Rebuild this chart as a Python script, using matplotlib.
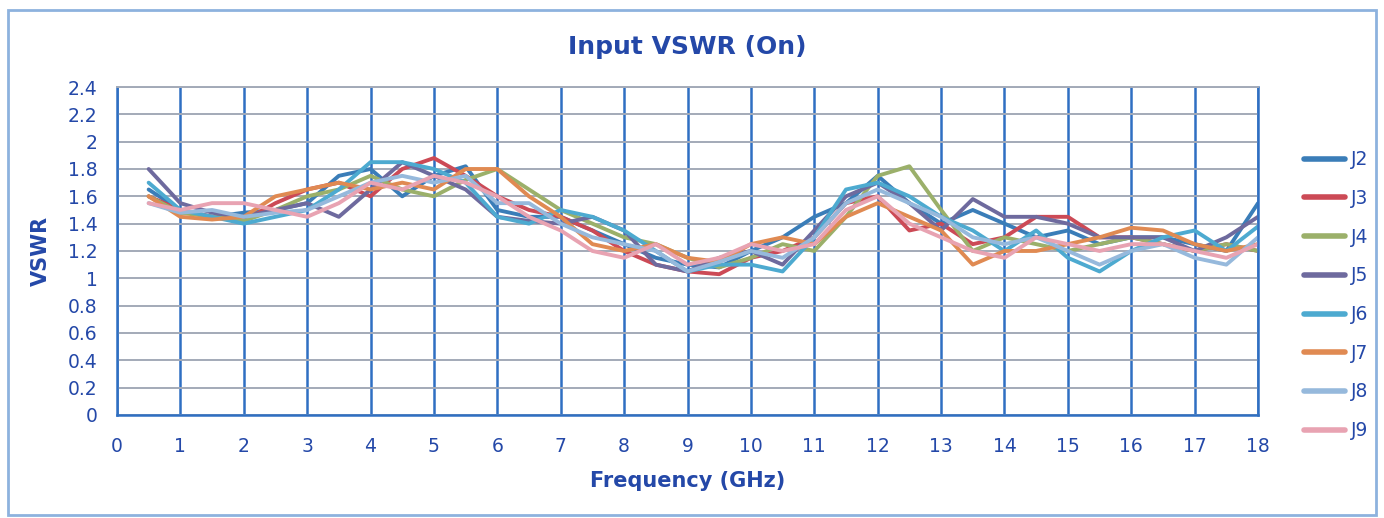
import numpy as np
import matplotlib
matplotlib.use('Agg')
import matplotlib.pyplot as plt
from matplotlib.patches import Rectangle
from matplotlib.ticker import FormatStrFormatter

# frequency points (GHz)
freq = np.arange(1, 37) * 0.5

j2 = [1.65, 1.50, 1.45, 1.48, 1.50, 1.55, 1.75, 1.80, 1.60, 1.75, 1.82, 1.50,
      1.45, 1.45, 1.35, 1.25, 1.15, 1.10, 1.08, 1.20, 1.30, 1.45, 1.55, 1.75,
      1.55, 1.40, 1.50, 1.40, 1.30, 1.35, 1.25, 1.30, 1.30, 1.25, 1.20, 1.55]
j3 = [1.60, 1.50, 1.45, 1.42, 1.55, 1.65, 1.70, 1.60, 1.80, 1.88, 1.75, 1.60,
      1.50, 1.45, 1.35, 1.20, 1.10, 1.05, 1.03, 1.15, 1.20, 1.30, 1.55, 1.60,
      1.35, 1.40, 1.25, 1.30, 1.45, 1.45, 1.30, 1.30, 1.25, 1.20, 1.25, 1.20]
j4 = [1.60, 1.48, 1.45, 1.42, 1.50, 1.60, 1.65, 1.75, 1.65, 1.60, 1.72, 1.80,
      1.65, 1.50, 1.40, 1.30, 1.25, 1.15, 1.08, 1.15, 1.25, 1.20, 1.45, 1.75,
      1.82, 1.50, 1.20, 1.30, 1.25, 1.20, 1.25, 1.30, 1.25, 1.20, 1.25, 1.20]
j5 = [1.80, 1.55, 1.48, 1.45, 1.50, 1.55, 1.45, 1.65, 1.85, 1.75, 1.65, 1.45,
      1.42, 1.40, 1.45, 1.35, 1.10, 1.05, 1.15, 1.20, 1.10, 1.35, 1.60, 1.70,
      1.55, 1.35, 1.58, 1.45, 1.45, 1.40, 1.30, 1.30, 1.30, 1.20, 1.30, 1.45]
j6 = [1.70, 1.50, 1.45, 1.40, 1.45, 1.50, 1.65, 1.85, 1.85, 1.80, 1.70, 1.45,
      1.40, 1.50, 1.45, 1.35, 1.20, 1.05, 1.10, 1.10, 1.05, 1.30, 1.65, 1.70,
      1.60, 1.45, 1.35, 1.20, 1.35, 1.15, 1.05, 1.20, 1.30, 1.35, 1.20, 1.38]
j7 = [1.60, 1.45, 1.43, 1.45, 1.60, 1.65, 1.70, 1.65, 1.70, 1.65, 1.80, 1.80,
      1.60, 1.45, 1.25, 1.20, 1.25, 1.15, 1.12, 1.25, 1.30, 1.25, 1.45, 1.55,
      1.45, 1.35, 1.10, 1.20, 1.20, 1.25, 1.30, 1.37, 1.35, 1.25, 1.20, 1.25]
j8 = [1.55, 1.48, 1.50, 1.45, 1.48, 1.50, 1.60, 1.70, 1.75, 1.70, 1.75, 1.55,
      1.55, 1.40, 1.30, 1.25, 1.20, 1.05, 1.12, 1.20, 1.15, 1.30, 1.55, 1.65,
      1.55, 1.45, 1.30, 1.25, 1.30, 1.20, 1.10, 1.20, 1.25, 1.15, 1.10, 1.30]
j9 = [1.55, 1.50, 1.55, 1.55, 1.50, 1.45, 1.55, 1.70, 1.65, 1.75, 1.70, 1.60,
      1.45, 1.35, 1.20, 1.15, 1.25, 1.10, 1.15, 1.25, 1.20, 1.25, 1.50, 1.60,
      1.40, 1.30, 1.20, 1.15, 1.30, 1.25, 1.20, 1.25, 1.25, 1.20, 1.15, 1.25]

names = ['J2', 'J3', 'J4', 'J5', 'J6', 'J7', 'J8', 'J9']
series = [j2, j3, j4, j5, j6, j7, j8, j9]
colors = ['#3A7DB8', '#CC4A56', '#9BB06A', '#6E6A9E',
          '#4DAAD0', '#E08A52', '#96B9DC', '#E8A3B2']

txt = '#2448A8'

fig = plt.figure(figsize=(13.84, 5.18), dpi=100)
ax = fig.add_axes([0.0845, 0.199, 0.8245, 0.633])

for name, vals, c in zip(names, series, colors):
  ax.plot(freq, vals, color=c, lw=2.8, label=name,
          solid_joinstyle='round', solid_capstyle='round')

ax.set_xlim(0, 18)
ax.set_ylim(0, 2.4)
ax.set_xticks(np.arange(0, 19, 1))
ax.set_yticks(np.arange(0, 2.41, 0.2))
ax.yaxis.set_major_formatter(FormatStrFormatter('%g'))
ax.tick_params(length=0, labelsize=13.5, labelcolor=txt)
ax.tick_params(axis='x', pad=16)
ax.tick_params(axis='y', pad=14)

# grid: blue verticals, grey horizontals
ax.xaxis.grid(True, color='#2F6FC2', lw=1.8)
ax.yaxis.grid(True, color='#A3AAB8', lw=1.4)
ax.set_axisbelow(True)
for s in ['left', 'bottom', 'right']:
  ax.spines[s].set_color('#2F6FC2')
  ax.spines[s].set_linewidth(1.8)
ax.spines['top'].set_color('#A3AAB8')
ax.spines['top'].set_linewidth(1.4)

ax.set_title('Input VSWR (On)', fontsize=18, fontweight='bold', color=txt, pad=24)
ax.set_xlabel('Frequency (GHz)', fontsize=15, fontweight='bold', color=txt, labelpad=11)
ax.set_ylabel('VSWR', fontsize=15, fontweight='bold', color=txt, labelpad=12)

leg = fig.legend(loc='center left', bbox_to_anchor=(0.93, 0.43), frameon=False,
                 fontsize=13.5, labelspacing=1.05, handlelength=2.2, handletextpad=0.3)
for t in leg.get_texts():
  t.set_color(txt)
for l in leg.get_lines():
  l.set_linewidth(4)

# outer chart border
fig.patches.append(Rectangle((0.006, 0.006), 0.988, 0.975, transform=fig.transFigure,
                             fill=False, edgecolor='#8DB2DE', lw=2))

fig.savefig('out.png', dpi=100)
